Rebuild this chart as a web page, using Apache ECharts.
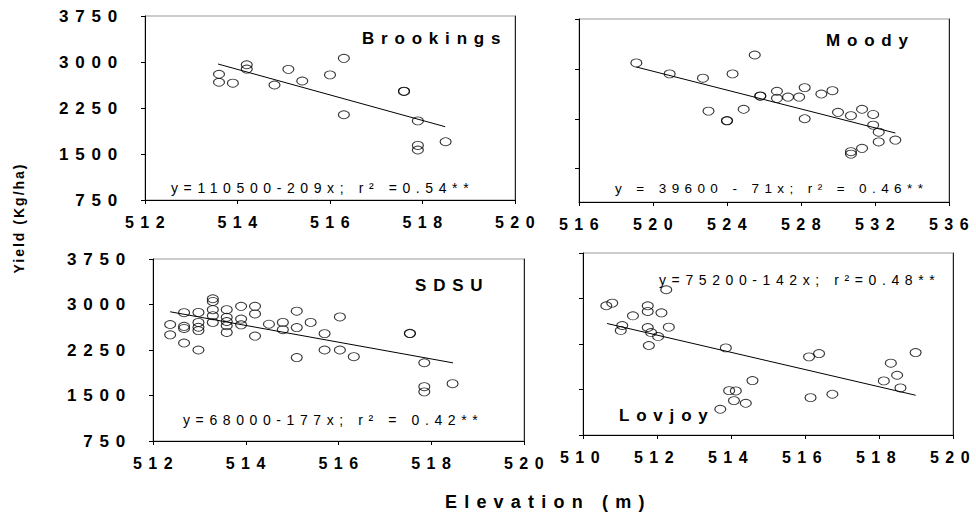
<!DOCTYPE html>
<html><head><meta charset="utf-8">
<script src="https://cdn.jsdelivr.net/npm/echarts@6/dist/echarts.min.js"></script>
<style>
html,body{margin:0;padding:0;background:#fff}
#c{width:976px;height:521px}
#c text{letter-spacing:0.4em}
</style></head><body><div id="c"></div><script>
// ---- data ----
var brookingsElev  = [513.6, 513.6, 513.9, 514.2, 514.2, 514.8, 515.1, 515.4, 516.0, 516.3, 516.3, 517.6, 517.6, 517.9, 517.9, 517.9, 518.5];
var brookingsYield = [2800, 2670, 2655, 2955, 2885, 2625, 2880, 2690, 2790, 3060, 2140, 2525, 2520, 2040, 1640, 1565, 1700];
var brookingsFitElev  = [513.58, 518.49];
var brookingsFitYield = [2967, 1945];

var moodyElev  = [519.1, 520.9, 522.7, 523.0, 524.3, 524.0, 524.0, 524.9, 525.5, 525.8, 525.8, 526.7, 526.7, 527.3, 527.9, 528.2, 528.2, 529.1, 529.7, 530.0, 530.7, 531.3, 531.9, 531.9, 532.2, 532.2, 533.1, 531.3, 530.7, 530.7];
var moodyYield = [3030, 2850, 2780, 2240, 2850, 2085, 2080, 2270, 3160, 2490, 2485, 2565, 2450, 2470, 2470, 2625, 2115, 2520, 2575, 2220, 2165, 2270, 2185, 2010, 1895, 1735, 1765, 1630, 1575, 1535];
var moodyFitElev  = [519.1, 533.1];
var moodyFitYield = [2963, 1881];
var moodyTickValues = [1303, 2111, 2931, 3750];

var sdsuElev  = [512.37, 512.37, 512.67, 512.67, 512.67, 512.67, 512.98, 512.98, 512.98, 512.98, 512.98, 513.29, 513.29, 513.29, 513.29, 513.29, 513.59, 513.59, 513.59, 513.59, 513.59, 513.9, 513.9, 513.9, 514.2, 514.2, 514.2, 514.5, 514.8, 514.8, 515.1, 515.1, 515.1, 515.4, 515.7, 515.7, 516.03, 516.03, 516.33, 517.54, 517.54, 517.85, 517.85, 517.85, 518.46];
var sdsuYield = [2670, 2500, 2865, 2640, 2605, 2365, 2870, 2705, 2625, 2570, 2250, 3095, 3050, 2915, 2815, 2705, 2915, 2790, 2720, 2650, 2540, 2970, 2760, 2665, 2970, 2845, 2480, 2675, 2705, 2585, 2890, 2620, 2125, 2705, 2520, 2250, 2250, 2795, 2140, 2520, 2525, 2040, 1645, 1560, 1695];
var sdsuFitElev  = [512.37, 518.47];
var sdsuFitYield = [2880, 2038];

var lovjoyElev  = [510.63, 510.79, 511.06, 511.02, 511.35, 511.75, 511.75, 511.75, 511.84, 511.78, 512.03, 512.12, 512.25, 512.32, 513.86, 513.71, 513.95, 514.13, 514.08, 514.40, 514.58, 516.11, 516.38, 516.15, 516.74, 518.13, 518.32, 518.49, 518.58, 518.99];
var lovjoyYield = [2880, 2924, 2555, 2472, 2715, 2880, 2786, 2522, 2439, 2225, 2373, 2764, 3144, 2528, 2186, 1174, 1481, 1476, 1317, 1273, 1647, 2038, 2092, 1366, 1422, 1642, 1934, 1735, 1526, 2109];
var lovjoyFitElev  = [510.65, 518.99];
var lovjoyFitYield = [2588, 1405];

var panelNames = ['Brookings', 'Moody', 'SDSU', 'Lovjoy'];
var equations = ['y=110500-209x; r\u00B2 =0.54**', 'y = 39600 - 71x; r\u00B2 = 0.46**', 'y=68000-177x; r\u00B2 = 0.42**', 'y=75200-142x; r\u00B2=0.48**'];
var yAxisTitle = 'Yield (Kg/ha)';
var xAxisTitle = 'Elevation (m)';

// ---- build ----
function pairs(a, b) { return a.map(function (v, i) { return [v, b[i]]; }); }
function plain(v) { return String(v); }
var FONT = 'Liberation Sans';
var chart = echarts.init(document.getElementById('c'), null, {renderer: 'svg'});

var grids = [
  {left: 145, top: 16, width: 370, height: 184},
  {left: 579, top: 19, width: 370, height: 183},
  {left: 153, top: 259, width: 371, height: 182},
  {left: 583, top: 253, width: 370, height: 182}
].map(function (g) { return Object.assign({show: true, borderColor: '#999', borderWidth: 1, backgroundColor: 'transparent', outerBoundsMode: 'none', containLabel: false}, g); });

var xRanges = [[512, 520, 2], [516, 536, 4], [512, 520, 2], [510, 520, 2]];
var xAxes = xRanges.map(function (r, i) {
  return {type: 'value', gridIndex: i, min: r[0], max: r[1], interval: r[2],
    axisLine: {show: true, lineStyle: {color: '#000', width: 1}},
    axisTick: {show: true, inside: false, length: 4, lineStyle: {color: '#000'}},
    splitLine: {show: false},
    axisLabel: {show: true, margin: 14, formatter: plain, color: '#000', fontFamily: FONT, fontWeight: 'bold', fontSize: 16, showMinLabel: true, showMaxLabel: true, padding: i === 3 ? 0 : [0, 0, 0, 6]}};
});
var yAxes = [0, 1, 2, 3].map(function (i) {
  var ax = {type: 'value', gridIndex: i, min: 750, max: 3750, interval: 750,
    axisLine: {show: true, lineStyle: {color: '#000', width: 1}},
    axisTick: {show: true, inside: false, length: 4, lineStyle: {color: '#000'}},
    splitLine: {show: false},
    axisLabel: {show: i === 0 || i === 2, margin: 21, formatter: plain, color: '#000', fontFamily: FONT, fontWeight: 'bold', fontSize: 17, showMinLabel: true, showMaxLabel: true}};
  if (i === 1) ax.axisTick.customValues = moodyTickValues;
  return ax;
});
[0, 1, 2, 3].forEach(function (i) {
  yAxes.push({type: 'value', gridIndex: i, position: 'right', min: 750, max: 3750, interval: 750,
    axisLine: {show: true, lineStyle: {color: '#222', width: 1}},
    axisTick: {show: false}, axisLabel: {show: false}, splitLine: {show: false}});
});

var sets = [
  [brookingsElev, brookingsYield, brookingsFitElev, brookingsFitYield],
  [moodyElev, moodyYield, moodyFitElev, moodyFitYield],
  [sdsuElev, sdsuYield, sdsuFitElev, sdsuFitYield],
  [lovjoyElev, lovjoyYield, lovjoyFitElev, lovjoyFitYield]
];
var series = [];
sets.forEach(function (s, i) {
  series.push({type: 'line', xAxisIndex: i, yAxisIndex: i, data: pairs(s[2], s[3]), symbol: 'none',
    lineStyle: {color: '#000', width: 1}, silent: true, z: 2});
  series.push({type: 'scatter', xAxisIndex: i, yAxisIndex: i, data: pairs(s[0], s[1]), symbol: 'circle',
    symbolSize: [11, 8], itemStyle: {color: 'rgba(255,255,255,0)', borderColor: '#000', borderWidth: 1}, z: 3});
});

var nameStyle = {fill: '#000', font: 'bold 17px "' + FONT + '"', textAlign: 'left', align: 'left', textVerticalAlign: 'middle', verticalAlign: 'middle'};
var eqSizes = [14, 13.5, 14, 14];
var namePos = [[362, 38.5], [826, 40], [415, 285], [619, 415]];
var eqPos = [[171, 187.5], [615, 188], [183, 420], [659, 280]];
var graphics = [];
panelNames.forEach(function (n, i) {
  graphics.push({type: 'text', x: namePos[i][0], y: namePos[i][1], style: Object.assign({text: n}, nameStyle)});
  graphics.push({type: 'text', x: eqPos[i][0], y: eqPos[i][1], style: {text: equations[i], fill: '#000', font: eqSizes[i] + 'px "' + FONT + '"', textAlign: 'left', align: 'left', textVerticalAlign: 'middle', verticalAlign: 'middle'}});
});
graphics.push({type: 'text', x: 445, y: 501.5, style: {text: xAxisTitle, fill: '#000', font: 'bold 18px "' + FONT + '"', textAlign: 'left', align: 'left', textVerticalAlign: 'middle', verticalAlign: 'middle'}});
graphics.push({type: 'text', x: 19, y: 218, rotation: Math.PI / 2, style: {text: yAxisTitle, fill: '#000', font: 'bold 14px "' + FONT + '"', textAlign: 'center', align: 'center', textVerticalAlign: 'middle', verticalAlign: 'middle'}});

chart.setOption({
  animation: false,
  backgroundColor: '#fff',
  grid: grids,
  xAxis: xAxes,
  yAxis: yAxes,
  series: series,
  graphic: graphics
});

function fixSpacing() {
  document.querySelectorAll('#c text').forEach(function (t) {
    if (t.textContent.indexOf('Yield') === 0) t.style.letterSpacing = '2px';
  });
}
chart.on('finished', fixSpacing);
fixSpacing();
setTimeout(fixSpacing, 0);
</script></body></html>
